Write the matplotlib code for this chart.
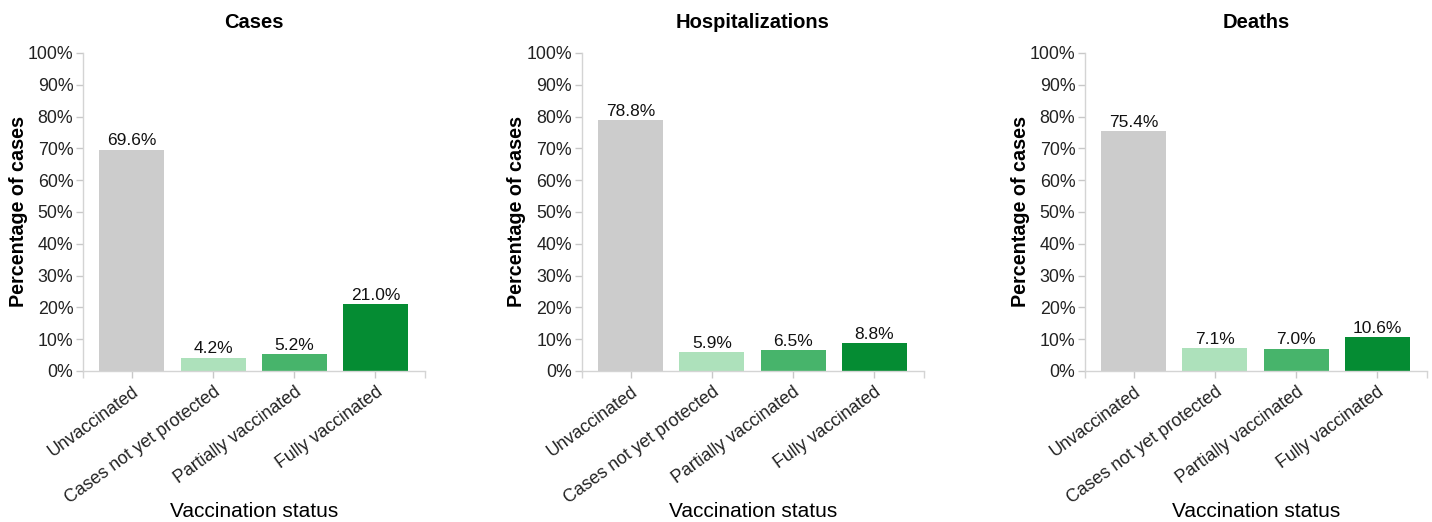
import numpy as np
import matplotlib
matplotlib.use('Agg')
import matplotlib.pyplot as plt
from matplotlib.ticker import MultipleLocator, PercentFormatter

# ==============================================
# Vaccination status share by outcome
# ==============================================

categories = ['Unvaccinated', 'Cases not yet protected', 'Partially vaccinated', 'Fully vaccinated']
panel_titles = ['Cases', 'Hospitalizations', 'Deaths']
cases = [69.6, 4.2, 5.2, 21.0]
hospitalizations = [78.8, 5.9, 6.5, 8.8]
deaths = [75.4, 7.1, 7.0, 10.6]
bar_colors = ['#cccccc', '#ade1bb', '#47b46b', '#058c33']

plt.rcParams['font.family'] = ['Liberation Sans', 'DejaVu Sans']

fig = plt.figure(figsize=(14.32, 5.22), dpi=100)
lefts = [0.058, 0.4064, 0.7577]
axis_grey = '#d4d4d4'

for left, title, values in zip(lefts, panel_titles, [cases, hospitalizations, deaths]):
    ax = fig.add_axes([left, 0.2893, 0.2388, 0.6092])
    x = np.arange(len(categories))
    ax.bar(x, values, width=0.8, color=bar_colors)
    for xi, v in zip(x, values):
        ax.text(xi, v + 0.4, f'{v:.1f}%', ha='center', va='bottom', fontsize=12.5, color='#111111')

    xmin, xmax = -0.6, 3.61
    ax.set_xlim(xmin, xmax)
    ax.set_ylim(0, 100)
    ax.yaxis.set_major_locator(MultipleLocator(10))
    ax.yaxis.set_major_formatter(PercentFormatter(decimals=0))
    ax.set_xticks(x)
    ax.set_xticklabels(categories, rotation=36, ha='right', rotation_mode='anchor')
    # small end ticks on the x axis
    ax.set_xticks([xmin, xmax], minor=True)

    for side in ['top', 'right']:
        ax.spines[side].set_visible(False)
    for side in ['left', 'bottom']:
        ax.spines[side].set_color(axis_grey)
        ax.spines[side].set_linewidth(1)
    ax.tick_params(axis='both', colors='#c8c8c8', length=5, width=1, labelsize=12.8, labelcolor='#222222')
    ax.tick_params(axis='x', which='minor', colors='#d4d4d4', length=5, width=1)
    ax.tick_params(axis='y', pad=2)
    ax.tick_params(axis='x', pad=4)

    ax.set_title(title, fontsize=14.5, fontweight='bold', pad=18)
    ax.set_ylabel('Percentage of cases', fontsize=14.2, fontweight='bold', va='center')
    ax.yaxis.set_label_coords(-0.19, 0.5)
    ax.set_xlabel('Vaccination status', fontsize=15, va='center')
    ax.xaxis.set_label_coords(0.5, -0.443)

plt.savefig('out.png', dpi=100)
plt.close()
